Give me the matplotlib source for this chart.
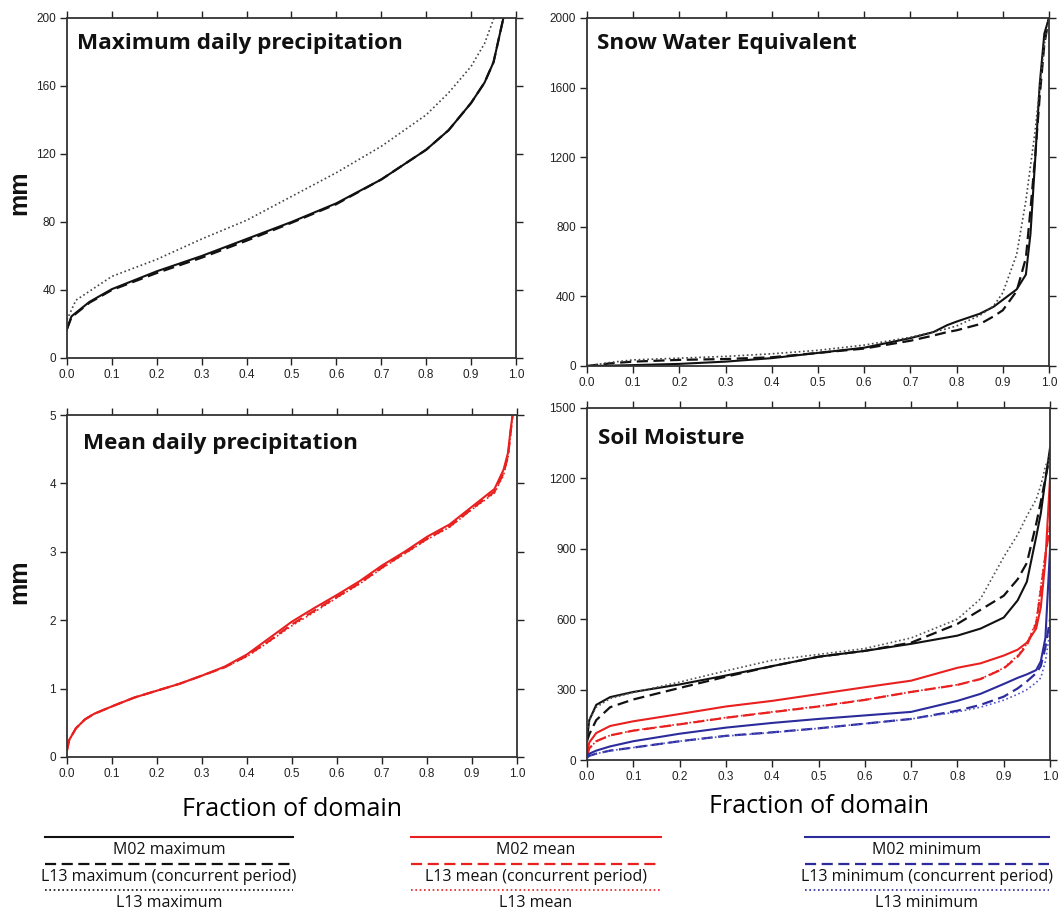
import numpy as np
import matplotlib
matplotlib.use("Agg")
import matplotlib.pyplot as plt
from matplotlib.lines import Line2D

# ---- data (fraction of domain vs value) ----
# maximum daily precipitation (mm)
maxp_x = [0.0, 0.01, 0.05, 0.1, 0.2, 0.3, 0.4, 0.5, 0.6, 0.7, 0.8, 0.85, 0.9, 0.93, 0.95, 0.972]
maxp_m02 = [17, 24.5, 33, 40.5, 51, 60, 70, 80, 91, 105, 122.5, 134, 150, 162, 174, 200]
maxp_l13c = [17, 24, 32.5, 40, 50, 59, 69, 79.5, 90.5, 105, 122.5, 134, 150, 162, 174, 200]
maxp_l13_x = [0.0, 0.02, 0.1, 0.2, 0.3, 0.4, 0.5, 0.6, 0.7, 0.8, 0.85, 0.9, 0.93, 0.951]
maxp_l13 = [22.5, 34, 48, 58, 70, 81, 95, 109, 124.5, 143, 156, 171.5, 185, 200]

# snow water equivalent (mm)
swe_x = [0.0, 0.05, 0.1, 0.2, 0.3, 0.4, 0.5, 0.6, 0.7, 0.75, 0.78, 0.8, 0.85, 0.88, 0.9, 0.93, 0.95,
         0.96, 0.97, 0.98, 0.99, 1.0]
swe_m02 = [0, 2, 5, 12, 25, 45, 75, 105, 160, 195, 235, 255, 300, 340, 380, 440, 525,
           760, 1180, 1620, 1910, 2000]
swe_l13c = [0, 15, 25, 35, 40, 50, 75, 100, 145, 175, 195, 205, 240, 285, 320, 430, 620,
            900, 1200, 1550, 1850, 2000]
swe_l13 = [0, 20, 35, 45, 55, 70, 90, 120, 165, 195, 215, 230, 290, 345, 420, 640, 950,
           1150, 1350, 1600, 1850, 2000]

# mean daily precipitation (mm)
meanp_x = [0.0, 0.005, 0.02, 0.04, 0.06, 0.1, 0.15, 0.2, 0.25, 0.3, 0.35, 0.4, 0.45, 0.5, 0.55,
           0.6, 0.65, 0.7, 0.75, 0.8, 0.85, 0.9, 0.95, 0.97, 0.98, 0.985, 0.99]
meanp_m02 = [0.1, 0.25, 0.42, 0.55, 0.63, 0.74, 0.87, 0.97, 1.07, 1.19, 1.32, 1.5, 1.74, 1.98, 2.18,
             2.37, 2.57, 2.8, 3.0, 3.22, 3.4, 3.66, 3.92, 4.2, 4.45, 4.75, 5.0]
meanp_l13c = [0.1, 0.25, 0.42, 0.55, 0.63, 0.74, 0.87, 0.97, 1.07, 1.19, 1.31, 1.48, 1.7, 1.94, 2.14,
              2.34, 2.54, 2.77, 2.98, 3.19, 3.37, 3.63, 3.88, 4.15, 4.4, 4.7, 5.0]
meanp_l13 = [0.1, 0.25, 0.42, 0.55, 0.63, 0.74, 0.87, 0.97, 1.07, 1.19, 1.31, 1.47, 1.69, 1.92, 2.12,
             2.33, 2.53, 2.76, 2.97, 3.18, 3.36, 3.62, 3.86, 4.12, 4.38, 4.68, 5.0]

# soil moisture (mm)
sm_x = [0.0, 0.005, 0.02, 0.05, 0.1, 0.2, 0.3, 0.4, 0.5, 0.6, 0.7, 0.8, 0.85, 0.9, 0.93, 0.95,
        0.97, 0.98, 0.99, 1.0]
sm_max_m02 = [90, 170, 235, 268, 290, 322, 360, 400, 440, 465, 495, 530, 560, 607, 680, 760,
              950, 1050, 1195, 1330]
sm_max_l13c = [80, 110, 170, 225, 258, 307, 355, 400, 440, 465, 500, 580, 640, 700, 770, 840,
               1005, 1100, 1200, 1300]
sm_max_l13 = [120, 170, 225, 262, 288, 332, 380, 425, 450, 475, 520, 600, 687, 865, 960, 1040,
              1110, 1170, 1250, 1300]
sm_mean_m02 = [30, 75, 115, 145, 165, 196, 228, 252, 281, 310, 338, 393, 412, 445, 470, 500,
               560, 650, 850, 1200]
sm_mean_l13c = [20, 50, 80, 105, 125, 152, 180, 204, 228, 256, 290, 320, 345, 390, 440, 490,
                580, 720, 870, 1000]
sm_mean_l13 = [20, 50, 80, 105, 126, 153, 181, 205, 229, 257, 290, 321, 346, 392, 445, 495,
               590, 740, 880, 1000]
sm_min_m02 = [15, 27, 40, 58, 80, 112, 138, 158, 175, 190, 205, 252, 282, 324, 350, 365,
              383, 420, 520, 900]
sm_min_l13c = [10, 18, 27, 40, 53, 80, 103, 118, 135, 155, 175, 210, 235, 270, 305, 335,
               370, 400, 480, 600]
sm_min_l13 = [10, 18, 27, 40, 53, 80, 102, 117, 135, 155, 175, 205, 225, 255, 280, 300,
              330, 350, 420, 550]

xticks = [0.0, 0.1, 0.2, 0.3, 0.4, 0.5, 0.6, 0.7, 0.8, 0.9, 1.0]
xtick_labels = ["0.0", "0.1", "0.2", "0.3", "0.4", "0.5", "0.6", "0.7", "0.8", "0.9", "1.0"]

legend_labels = [
    ["M02 maximum", "L13 maximum (concurrent period)", "L13 maximum"],
    ["M02 mean", "L13 mean (concurrent period)", "L13 mean"],
    ["M02 minimum", "L13 minimum (concurrent period)", "L13 minimum"],
]

BLACK = "#111111"
RED = "#e8201f"
BLUE = "#2b2b9c"
SOLID = dict(linestyle="-", lw=1.5)
DASH = dict(linestyle=(0, (5, 2.5)), lw=1.6)
DOT = dict(linestyle=(0, (1, 1.6)), lw=1.2)

TICK_FONT = "Liberation Sans"
TITLE_FONT = "Open Sans"

W, H = 1063.0, 917.0
fig = plt.figure(figsize=(10.63, 9.17), dpi=100)


def style_axes(ax, ymax, yticks):
    ax.set_xlim(0, 1)
    ax.set_ylim(0, ymax)
    ax.set_xticks(xticks)
    ax.set_xticklabels(xtick_labels)
    ax.set_yticks(yticks)
    ax.set_yticklabels([str(v) for v in yticks])
    ax.tick_params(direction="out", length=5, width=1.0, top=True, right=True,
                   labelsize=8.5, pad=3, colors="#222222")
    for lab in ax.get_xticklabels() + ax.get_yticklabels():
        lab.set_fontfamily(TICK_FONT)
    for sp in ax.spines.values():
        sp.set_linewidth(1.3)
        sp.set_color("#333333")


def add_title(text, x_px, y_px):
    # panel titles sit at fixed pixel spots, like in the source figure
    fig.text(x_px / W, 1 - y_px / H, text, ha="left", va="center",
             fontsize=16.2, fontweight="bold", fontfamily=TITLE_FONT, color="#111111")


def add_mm(y_px):
    fig.text(19 / W, 1 - y_px / H, "mm", rotation=90, ha="center", va="center",
             fontsize=18, fontweight="bold", fontfamily="Liberation Sans", color="#111111")


# top-left: maximum daily precipitation
ax1 = fig.add_axes([0.063, 0.6096, 0.4224, 0.3708])
ax1.plot(maxp_x, maxp_m02, color=BLACK, **SOLID)
ax1.plot(maxp_x, maxp_l13c, color=BLACK, **DASH)
ax1.plot(maxp_l13_x, maxp_l13, color="#444444", **DOT)
style_axes(ax1, 200, [0, 40, 80, 120, 160, 200])
add_title("Maximum daily precipitation", 77, 44)
add_mm(193)

# top-right: snow water equivalent
ax2 = fig.add_axes([0.5522, 0.6009, 0.4346, 0.3795])
ax2.plot(swe_x, swe_m02, color=BLACK, **SOLID)
ax2.plot(swe_x, swe_l13c, color=BLACK, **DASH)
ax2.plot(swe_x, swe_l13, color="#444444", **DOT)
style_axes(ax2, 2000, [0, 400, 800, 1200, 1600, 2000])
add_title("Snow Water Equivalent", 597, 44)

# bottom-left: mean daily precipitation
ax3 = fig.add_axes([0.063, 0.1745, 0.4234, 0.3729])
ax3.plot(meanp_x, meanp_l13, color=RED, **DOT)
ax3.plot(meanp_x, meanp_l13c, color=RED, **DASH)
ax3.plot(meanp_x, meanp_m02, color=RED, **SOLID)
style_axes(ax3, 5, [0, 1, 2, 3, 4, 5])
add_title("Mean daily precipitation", 83, 444)
add_mm(582)
ax3.set_xlabel("Fraction of domain", fontsize=18, fontfamily=TITLE_FONT, labelpad=12)

# bottom-right: soil moisture
ax4 = fig.add_axes([0.5522, 0.1712, 0.4356, 0.3839])
ax4.plot(sm_x, sm_max_m02, color=BLACK, **SOLID)
ax4.plot(sm_x, sm_max_l13c, color=BLACK, **DASH)
ax4.plot(sm_x, sm_max_l13, color="#555555", **DOT)
ax4.plot(sm_x, sm_mean_m02, color=RED, **SOLID)
ax4.plot(sm_x, sm_mean_l13c, color=RED, **DASH)
ax4.plot(sm_x, sm_mean_l13, color=RED, **DOT)
ax4.plot(sm_x, sm_min_m02, color=BLUE, **SOLID)
ax4.plot(sm_x, sm_min_l13c, color=BLUE, **DASH)
ax4.plot(sm_x, sm_min_l13, color="#5555cc", **DOT)
style_axes(ax4, 1500, [0, 300, 600, 900, 1200, 1500])
add_title("Soil Moisture", 598, 438)
ax4.set_xlabel("Fraction of domain", fontsize=18, fontfamily=TITLE_FONT, labelpad=8)

# legend block underneath: line, then its label centred below it
cols = [(45, 293, BLACK), (411, 661, RED), (805, 1049, BLUE)]
line_y = [837, 864, 890]
styles = [SOLID, DASH, DOT]
for (x0, x1, col), labels in zip(cols, legend_labels):
    xc = (x0 + x1) / 2.0
    for yy, st, lab in zip(line_y, styles, labels):
        fig.add_artist(Line2D([x0 / W, x1 / W], [1 - yy / H, 1 - yy / H],
                              color=col, transform=fig.transFigure, **st))
        fig.text(xc / W, 1 - (yy + 13) / H, lab, ha="center", va="center",
                 fontsize=11.5, fontfamily=TITLE_FONT, color="#111111")

fig.savefig("out.png", dpi=100)
